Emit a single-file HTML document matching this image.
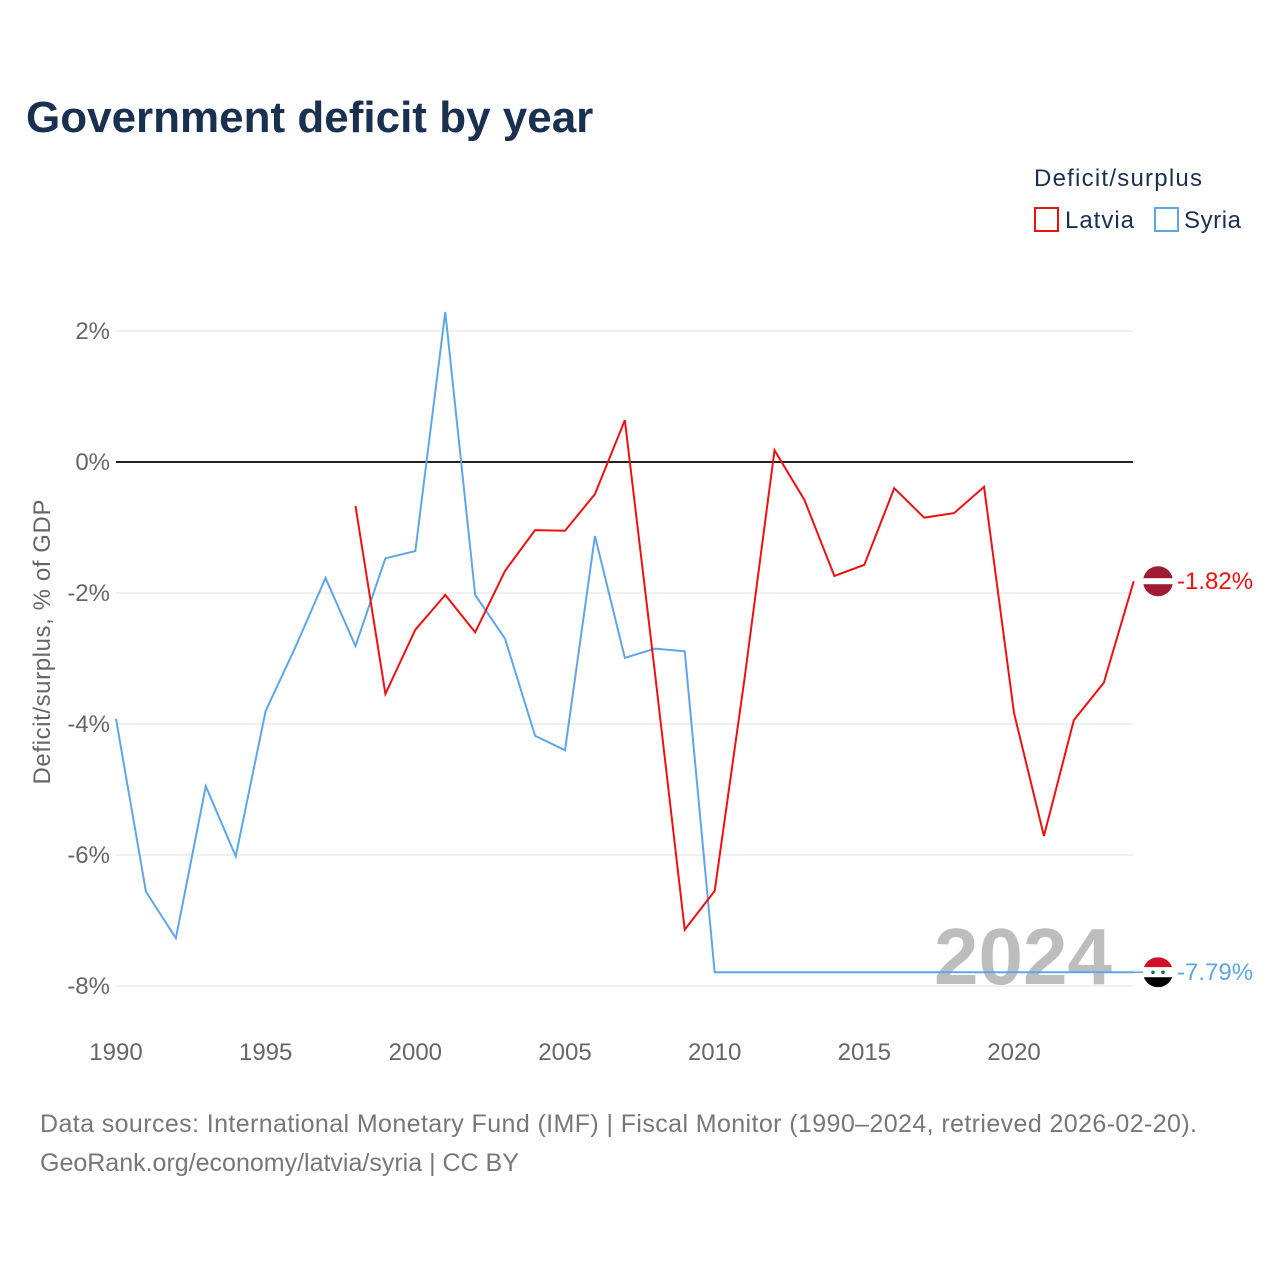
<!DOCTYPE html>
<html><head><meta charset="utf-8"><style>
body{margin:0;background:#fff;font-family:"Liberation Sans",sans-serif;}
svg text{font-family:"Liberation Sans",sans-serif;}
</style></head><body>
<svg id="chart" width="1280" height="1280" xmlns="http://www.w3.org/2000/svg">
<text x="26" y="132" font-size="44" font-weight="bold" fill="#1a3050">Government deficit by year</text>
<g>
<text x="1034" y="186" font-size="24" fill="#1a3050" textLength="168">Deficit/surplus</text>
<rect x="1035" y="208" width="23" height="23" fill="none" stroke="#ee1111" stroke-width="2"/>
<text x="1065" y="228" font-size="24" fill="#1a3050" textLength="69">Latvia</text>
<rect x="1155" y="208" width="23" height="23" fill="none" stroke="#5ea6e8" stroke-width="2"/>
<text x="1184" y="228" font-size="24" fill="#1a3050" textLength="57">Syria</text>
</g>
<text transform="translate(50,642) rotate(-90)" text-anchor="middle" font-size="24" fill="#666" textLength="285">Deficit/surplus, % of GDP</text>
<g id="grid"></g>
<text x="1112" y="984" text-anchor="end" font-size="80" font-weight="bold" fill="#bdbdbd">2024</text>
<g id="series"></g>
<g id="xticks"></g>
<text x="40" y="1132" font-size="25" fill="#777" textLength="1157">Data sources: International Monetary Fund (IMF) | Fiscal Monitor (1990–2024, retrieved 2026-02-20).</text>
<text x="40" y="1171" font-size="25" fill="#777">GeoRank.org/economy/latvia/syria | CC BY</text>
</svg>
<script>
const yTicks=[2,0,-2,-4,-6,-8];
const xTicks=[1990,1995,2000,2005,2010,2015,2020];
const syriaYears=[1990,1991,1992,1993,1994,1995,1996,1997,1998,1999,2000,2001,2002,2003,2004,2005,2006,2007,2008,2009,2010,2011,2012,2013,2014,2015,2016,2017,2018,2019,2020,2021,2022,2023,2024];
const syriaValues=[-3.92,-6.56,-7.27,-4.95,-6.02,-3.80,-2.82,-1.77,-2.81,-1.47,-1.36,2.29,-2.03,-2.70,-4.18,-4.40,-1.13,-2.99,-2.85,-2.89,-7.79,-7.79,-7.79,-7.79,-7.79,-7.79,-7.79,-7.79,-7.79,-7.79,-7.79,-7.79,-7.79,-7.79,-7.79];
const latviaYears=[1998,1999,2000,2001,2002,2003,2004,2005,2006,2007,2008,2009,2010,2011,2012,2013,2014,2015,2016,2017,2018,2019,2020,2021,2022,2023,2024];
const latviaValues=[-0.67,-3.54,-2.56,-2.03,-2.60,-1.66,-1.04,-1.05,-0.49,0.64,-3.2,-7.14,-6.55,-3.3,0.18,-0.58,-1.74,-1.57,-0.40,-0.85,-0.78,-0.38,-3.83,-5.71,-3.94,-3.37,-1.82];
const NS="http://www.w3.org/2000/svg";
const X=y=>116+(y-1990)*29.933;
const Y=v=>462-v*65.5;
function mk(tag,attrs,parent){const e=document.createElementNS(NS,tag);for(const k in attrs)e.setAttribute(k,attrs[k]);parent.appendChild(e);return e;}
const grid=document.getElementById('grid');
yTicks.forEach(t=>{
 const l=mk('line',{x1:116,x2:1133,y1:Y(t),y2:Y(t),stroke:t===0?'#222':'#e6e6e6','stroke-width':t===0?2:1.3},grid);
 
 
 const tx=mk('text',{x:110,y:Y(t)+8,'text-anchor':'end','font-size':24,fill:'#666'},grid);
 tx.textContent=t+'%';
 
 
});
const xg=document.getElementById('xticks');
xTicks.forEach(t=>{
 const tx=mk('text',{x:X(t),y:1060,'text-anchor':'middle','font-size':24,fill:'#666'},xg);
 tx.textContent=t;
 
 
});
const sg=document.getElementById('series');
function line(years,vals,color,name){
 const p=mk('polyline',{points:years.map((y,i)=>X(y)+','+Y(vals[i])).join(' '),fill:'none',stroke:color,'stroke-width':2},sg);
 
 
}
line(syriaYears,syriaValues,'#5ea6e8','syria-line');
line(latviaYears,latviaValues,'#ee1111','latvia-line');
const sv=syriaValues[syriaValues.length-1], lv=latviaValues[latviaValues.length-1];
const sl=mk('line',{x1:1133,x2:1145,y1:Y(sv),y2:Y(sv),stroke:'#5ea6e8','stroke-width':1.5},sg);


const lf=mk('g',{},sg);


const ly=Y(lv);
mk('circle',{cx:1158,cy:ly,r:15,fill:'#9e1b32'},lf);
mk('rect',{x:1143,y:ly-3,width:30,height:6,fill:'#fff'},lf);
const sf=mk('g',{},sg);


const sy=Y(sv);
const cp=mk('clipPath',{id:'sc'},sf);
mk('circle',{cx:1158,cy:sy,r:15},cp);
mk('rect',{x:1143,y:sy-15,width:30,height:10,fill:'#ce1126','clip-path':'url(#sc)'},sf);
mk('rect',{x:1143,y:sy-5,width:30,height:10,fill:'#fff','clip-path':'url(#sc)'},sf);
mk('rect',{x:1143,y:sy+5,width:30,height:10,fill:'#000','clip-path':'url(#sc)'},sf);
mk('circle',{cx:1153,cy:sy,r:1.8,fill:'#007a3d'},sf);
mk('circle',{cx:1163,cy:sy,r:1.8,fill:'#007a3d'},sf);
const lt=mk('text',{x:1177,y:ly+8,'font-size':24,fill:'#ee1111'},sg);
lt.textContent=lv.toFixed(2)+'%';


const st=mk('text',{x:1177,y:sy+8,'font-size':24,fill:'#5ea6e8'},sg);
st.textContent=sv.toFixed(2)+'%';


</script>
</body></html>
